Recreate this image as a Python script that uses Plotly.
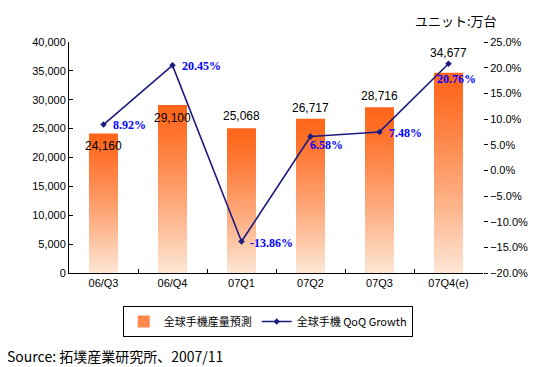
import plotly.graph_objects as go

categories = ["06/Q3", "06/Q4", "07Q1", "07Q2", "07Q3", "07Q4(e)"]
production = [24160, 29100, 25068, 26717, 28716, 34677]
growth = [8.92, 20.45, -13.86, 6.58, 7.48, 20.76]
bar_label_shift = [-13, -13, 12, 11, 11, 20]
pct_label_style = [  # (xanchor, xshift, yshift)
    ("left", 7, 0), ("left", 7, -1), ("left", 6, -2),
    ("left", -3, -8), ("left", 7, -1), ("center", 8, -15)]

top = (255, 102, 26)
bottom = (253, 229, 210)
N = 40

fig = go.Figure()
for k in range(N):
    t = (k / (N - 1)) ** 1.2
    c = tuple(round(top[i] + (bottom[i] - top[i]) * t) for i in range(3))
    frac = (N - k) / N
    fig.add_trace(go.Bar(
        x=categories, y=[v * frac for v in production],
        marker=dict(color="rgb(%d,%d,%d)" % c, line=dict(width=0)),
        width=0.42, showlegend=(k == N // 3), name="全球手機産量預測",
        hoverinfo="skip", yaxis="y"))

fig.add_trace(go.Scatter(
    x=categories, y=growth, yaxis="y2", mode="lines+markers",
    name="全球手機 QoQ Growth",
    line=dict(color="#1c1c80", width=1.6),
    marker=dict(symbol="diamond", size=5, color="#1c1c80")))

ann = []
for i, (c, v) in enumerate(zip(categories, production)):
    ann.append(dict(x=c, y=v, xref="x", yref="y", text=f"{v:,}",
                    showarrow=False, yshift=bar_label_shift[i],
                    font=dict(family="Liberation Sans", size=12, color="black")))
for i, (c, g) in enumerate(zip(categories, growth)):
    xa, xs, ys = pct_label_style[i]
    ann.append(dict(x=c, y=g, xref="x", yref="y2", text=f"{g:.2f}%",
                    showarrow=False, xanchor=xa, xshift=xs, yshift=ys,
                    font=dict(family="Liberation Serif", size=12, color="#0000ff",
                              weight="bold")))
ann.append(dict(x=0.935, y=1.145, xref="paper", yref="paper", text="ユニット:万台",
                showarrow=False, xanchor="center", yanchor="top",
                font=dict(family="Noto Sans CJK JP", size=13, color="black")))
ann.append(dict(x=-0.155, y=-0.36, xref="paper", yref="paper",
                text="Source: 拓墣産業研究所、2007/11", xanchor="left", yanchor="middle",
                showarrow=False, font=dict(family="Noto Sans CJK JP", size=14, color="black")))

fig.update_layout(
    width=532, height=359, barmode="overlay",
    margin=dict(l=61, r=57, t=34, b=94),
    paper_bgcolor="white", plot_bgcolor="white",
    font=dict(family="Liberation Sans", size=11, color="black"),
    xaxis=dict(type="category", showline=True, linecolor="black", linewidth=1,
               ticks="inside", tickson="boundaries", ticklen=4, tickcolor="black",
               showgrid=False, tickfont=dict(size=11)),
    yaxis=dict(range=[0, 40000], dtick=5000, tickformat=",", showline=True,
               linecolor="black", linewidth=1, ticks="inside", ticklen=4,
               tickcolor="black", showgrid=False, zeroline=False,
               tickfont=dict(size=11)),
    yaxis2=dict(range=[-20, 25], dtick=5, tickformat=".1f", ticksuffix="%",
                overlaying="y", side="right", showline=False, ticks="outside",
                ticklen=4, tickcolor="black", showgrid=False, zeroline=False,
                tickfont=dict(size=11)),
    legend=dict(orientation="h", x=0.48, xanchor="center", y=-0.21, yanchor="middle",
                bordercolor="black", borderwidth=1, bgcolor="white",
                font=dict(family="Noto Sans CJK JP", size=11),
                itemwidth=30, tracegroupgap=0),
    annotations=ann, showlegend=True)

fig.write_html("out.html")
